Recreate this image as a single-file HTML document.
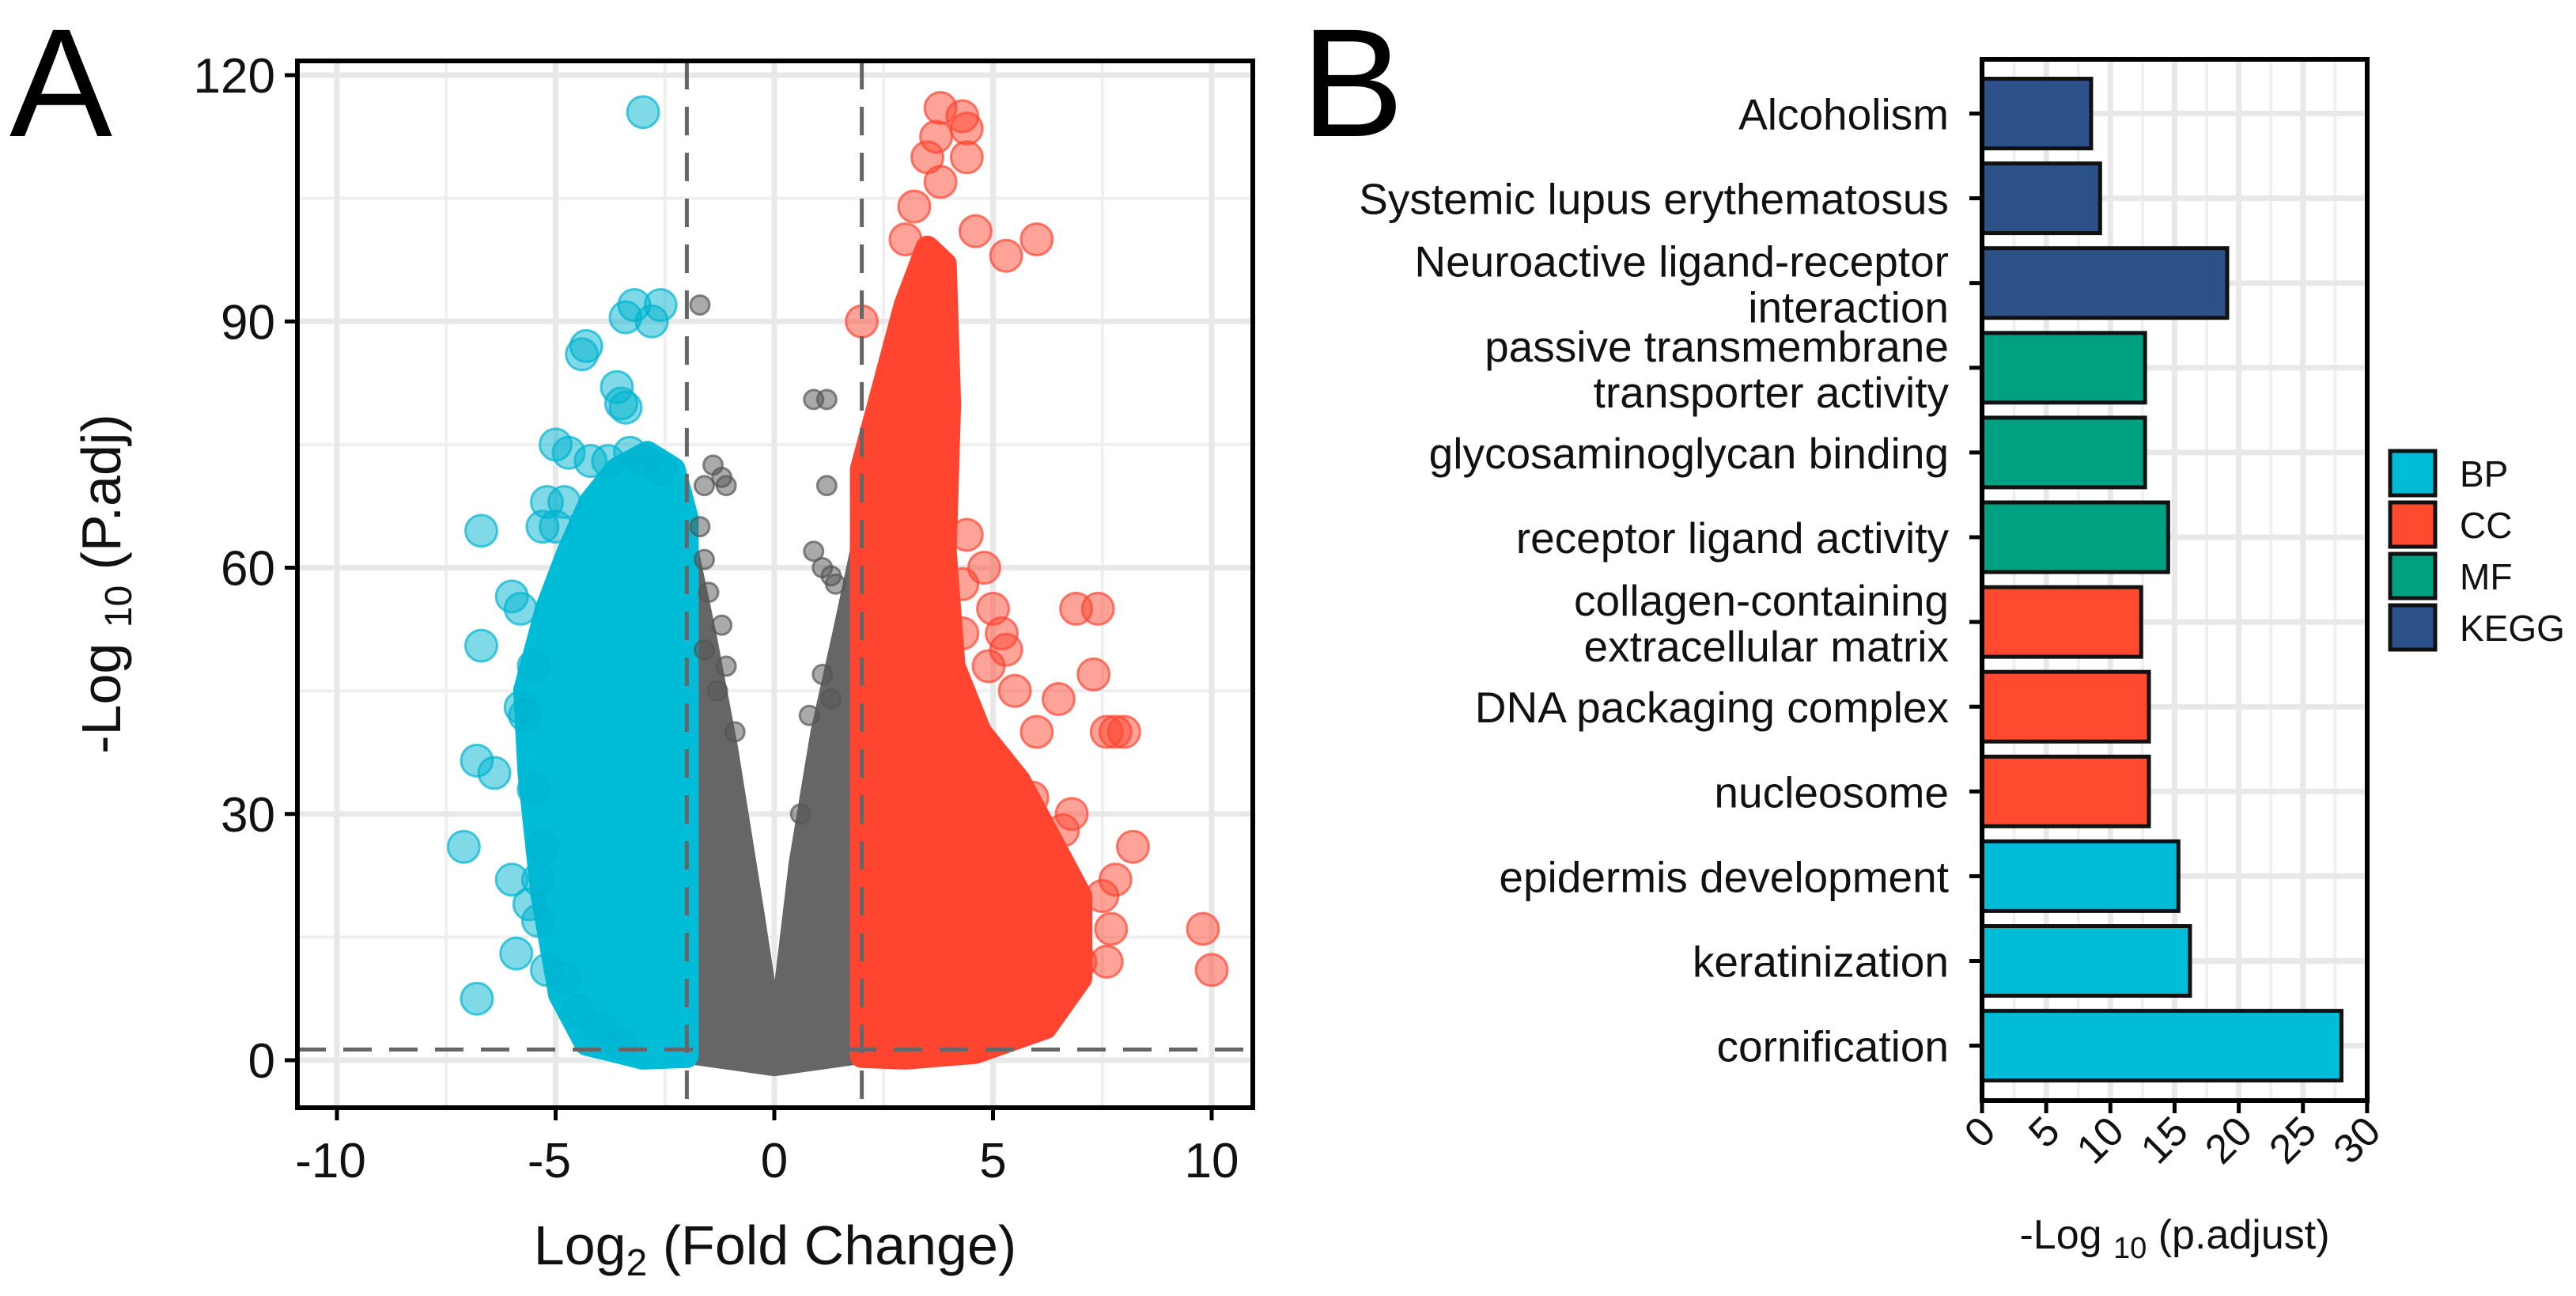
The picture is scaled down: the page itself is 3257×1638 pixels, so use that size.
<!DOCTYPE html>
<html><head><meta charset="utf-8">
<style>
html,body{margin:0;padding:0;background:#fff;}
svg{display:block;font-family:"Liberation Sans",Arial,sans-serif;}
</style></head>
<body>
<svg id="fig" width="3257" height="1638" viewBox="0 0 3257 1638" xmlns="http://www.w3.org/2000/svg">
<text x="12" y="172" font-size="195">A</text>
<text x="1645" y="172" font-size="195">B</text>
<g id="volcano"></g>
<g id="bars"></g>
</svg>
<script>
// ---------- Volcano data ----------
const xTicksA = [-10, -5, 0, 5, 10];
const yTicksA = [0, 30, 60, 90, 120];
const blueCloud = [[-2,0.5],[-3,0.3],[-4.3,2],[-4.9,8],[-5.3,20],[-5.6,35],[-5.7,45],[-5.2,55],[-4.7,62],[-4.2,68],[-3.6,72],[-2.9,74],[-2.3,72],[-2.0,66]];
const grayCloud = [[-2,1],[-2,62],[-1.6,52],[-1.1,38],[-0.5,18],[-0.1,4],[0.2,6],[0.6,24],[1.1,40],[1.6,52],[2,62],[2,1],[0,-0.5]];
const redCloud = [[2,0.5],[2,72],[2.5,82],[3.0,92],[3.5,99],[3.9,97],[4.0,80],[3.9,62],[4.1,48],[4.7,40],[5.6,34],[6.4,26],[7,20],[7,10],[6.2,4],[4.6,1],[3,0.3]];
const bluePts = [[-3,115.5],[-3.2,92],[-3.4,90.5],[-2.6,92],[-2.8,90],[-4.3,87],[-4.4,86],[-3.6,82],[-3.5,80],[-3.4,79.5],[-5,75],[-4.7,74],[-4.2,73],[-3.8,73],[-3.3,74],[-3,73],[-2.6,72],[-6.7,64.5],[-5.3,65],[-5,65],[-5.2,68],[-4.8,68],[-6,56.5],[-5.8,55],[-6.7,50.5],[-5.8,43],[-6.8,36.5],[-6.4,35],[-5.5,33],[-7.1,26],[-5.3,26],[-6,22],[-5.4,22],[-5.6,19],[-5.4,17],[-5.9,13],[-5.2,11],[-6.8,7.5],[-3.5,2],[-4.5,6],[-4.8,10],[-4,4],[-5.7,42],[-5.5,48]];
const redPts = [[3.8,116],[4.3,115],[4.4,113.5],[3.7,112.5],[3.5,110],[4.4,110],[3.8,107],[6,100],[5.3,98],[4.6,101],[3.2,104],[2,90],[3,100],[4.4,64],[4.8,60],[4.3,58],[5,55],[5.2,52],[4.3,52],[6.9,55],[7.4,55],[7.3,47],[5.3,50],[7.8,40],[7.6,40],[8,40],[6.5,44],[6,40],[5.5,45],[8.2,26],[7.8,22],[7.5,20],[7.7,16],[7.6,12],[7,12],[9.8,16],[10,11],[6.8,30],[6.6,28],[5.9,32],[4.5,5],[5.5,4],[3.3,88],[2.6,80],[2.4,70],[4.9,48]];
const grayPts = [[-1.7,92],[-1.4,72.5],[-1.2,71],[-1.1,70],[-1.6,70],[-1.7,65],[-1.6,61],[0.9,80.5],[1.2,80.5],[1.2,70],[0.9,62],[1.1,60],[1.3,59],[1.4,58],[-1.5,57],[-1.2,53],[-1.1,48],[-1.3,45],[-0.9,40],[1.1,47],[0.8,42],[1.3,44],[0.6,30],[-1.6,50]];
const fcCut = [-2, 2];
const pCut = 1.3;

// ---------- Bar data ----------
const terms = ["Alcoholism","Systemic lupus erythematosus","Neuroactive ligand-receptor|interaction","passive transmembrane|transporter activity","glycosaminoglycan binding","receptor ligand activity","collagen-containing|extracellular matrix","DNA packaging complex","nucleosome","epidermis development","keratinization","cornification"];
const values = [8.5, 9.2, 19.1, 12.7, 12.7, 14.5, 12.4, 13.0, 13.0, 15.3, 16.2, 28.0];
const groups = ["KEGG","KEGG","KEGG","MF","MF","MF","CC","CC","CC","BP","BP","BP"];
const xTicksB = [0, 5, 10, 15, 20, 25, 30];
const legendKeys = ["BP","CC","MF","KEGG"];
const groupColors = {BP:"#00BCD6", CC:"#FF4A2F", MF:"#00A083", KEGG:"#2C5189"};

const NS = "http://www.w3.org/2000/svg";
function mk(tag, attrs, parent){const e=document.createElementNS(NS,tag);for(const k in attrs)e.setAttribute(k,attrs[k]);parent.appendChild(e);return e;}

// ---------- Volcano ----------
(function(){
  const g = document.getElementById('volcano');
  const L=376,R=1584,T=77,B=1400;
  const sx = v => 979 + v*55.3;
  const sy = v => 1340 - v*10.375;
  let e;
  e=mk('rect',{x:L,y:T,width:R-L,height:B-T,fill:'#fff'},g);
  
  
  [-7.5,-2.5,2.5,7.5].forEach(v=>{e=mk('line',{x1:sx(v),x2:sx(v),y1:T,y2:B,stroke:'#efefef','stroke-width':4},g);
    });
  [15,45,75,105].forEach(v=>{e=mk('line',{x1:L,x2:R,y1:sy(v),y2:sy(v),stroke:'#efefef','stroke-width':4},g);
    });
  xTicksA.forEach(v=>{e=mk('line',{x1:sx(v),x2:sx(v),y1:T,y2:B,stroke:'#e8e8e8','stroke-width':7},g);
    });
  yTicksA.forEach(v=>{e=mk('line',{x1:L,x2:R,y1:sy(v),y2:sy(v),stroke:'#e8e8e8','stroke-width':7},g);
    });
  const poly=(arr,col,name)=>{e=mk('polygon',{points:arr.map(p=>sx(p[0])+','+sy(p[1])).join(' '),fill:col,stroke:col,'stroke-width':30,'stroke-linejoin':'round'},g);
    };
  poly(grayCloud,'#666666','gray-point-cloud');
  poly(blueCloud,'#00BCD6','blue-point-cloud');
  poly(redCloud,'#FF4530','red-point-cloud');
  const pts=(arr,col,r,name)=>arr.forEach(p=>{e=mk('circle',{cx:sx(p[0]),cy:sy(p[1]),r:r,fill:col,'fill-opacity':0.5,stroke:col,'stroke-opacity':0.7,'stroke-width':3},g);
    });
  pts(grayPts,'#555555',12,'gray-point');
  pts(bluePts,'#00B4D0',20,'down-point');
  pts(redPts,'#FF4530',20,'up-point');
  fcCut.forEach(v=>{e=mk('line',{x1:sx(v),x2:sx(v),y1:T,y2:B,stroke:'#666','stroke-width':5,'stroke-dasharray':'36 22'},g);
    });
  e=mk('line',{x1:L,x2:R,y1:sy(pCut),y2:sy(pCut),stroke:'#666','stroke-width':5,'stroke-dasharray':'36 22'},g);
  
  e=mk('rect',{x:L,y:T,width:R-L,height:B-T,fill:'none',stroke:'#000','stroke-width':6},g);
  
  xTicksA.forEach(v=>{
    e=mk('line',{x1:sx(v),x2:sx(v),y1:B,y2:B+16,stroke:'#000','stroke-width':5},g);
    
    e=mk('text',{x:sx(v)-(v<0?8:0),y:B+88,'font-size':62,'text-anchor':'middle',fill:'#111'},g);
    e.textContent=v;
  });
  yTicksA.forEach(v=>{
    e=mk('line',{x1:L-16,x2:L,y1:sy(v),y2:sy(v),stroke:'#000','stroke-width':5},g);
    
    e=mk('text',{x:L-28,y:sy(v)+22,'font-size':62,'text-anchor':'end',fill:'#111'},g);
    e.textContent=v;
  });
  e=mk('text',{x:(L+R)/2,y:1598,'font-size':70,'text-anchor':'middle',fill:'#111'},g);
  e.innerHTML='Log<tspan font-size="48" dy="14">2</tspan><tspan dy="-14"> (Fold Change)</tspan>';
  
  e=mk('text',{x:0,y:0,'font-size':70,'text-anchor':'middle',fill:'#111',transform:'translate(152,738) rotate(-90)'},g);
  e.innerHTML='-Log <tspan font-size="48" dy="14">10</tspan><tspan dy="-14"> (P.adj)</tspan>';
  
})();

// ---------- Bars ----------
(function(){
  const g=document.getElementById('bars');
  const L=2506,R=2993,T=75,B=1391;
  const sx=v=>L+v*16.23;
  const band=107.1, c0=143.5, bh=88;
  const cy=i=>c0+i*band;
  let e;
  e=mk('rect',{x:L,y:T,width:R-L,height:B-T,fill:'#fff'},g);
  
  [2.5,7.5,12.5,17.5,22.5,27.5].forEach(v=>{e=mk('line',{x1:sx(v),x2:sx(v),y1:T,y2:B,stroke:'#f0f0f0','stroke-width':4},g);
    });
  xTicksB.forEach(v=>{e=mk('line',{x1:sx(v),x2:sx(v),y1:T,y2:B,stroke:'#e8e8e8','stroke-width':7},g);
    });
  terms.forEach((t,i)=>{e=mk('line',{x1:L,x2:R,y1:cy(i),y2:cy(i),stroke:'#e8e8e8','stroke-width':7},g);
    });
  terms.forEach((t,i)=>{
    e=mk('rect',{x:L,y:cy(i)-bh/2,width:sx(values[i])-L,height:bh,fill:groupColors[groups[i]],stroke:'#111','stroke-width':5},g);
    
    e=mk('line',{x1:L-16,x2:L,y1:cy(i),y2:cy(i),stroke:'#000','stroke-width':5},g);
    
    const lines=t.split('|');
    lines.forEach((ln,k)=>{
      const off = lines.length===1 ? 20 : (k===0 ? -8 : 50);
      e=mk('text',{x:L-42,y:cy(i)+off,'font-size':55,'text-anchor':'end',fill:'#111'},g);
      e.textContent=ln;
    });
  });
  e=mk('rect',{x:L,y:T,width:R-L,height:B-T,fill:'none',stroke:'#000','stroke-width':6},g);
  
  xTicksB.forEach(v=>{
    e=mk('line',{x1:sx(v),x2:sx(v),y1:B,y2:B+16,stroke:'#000','stroke-width':5},g);
    
    e=mk('text',{x:0,y:0,'font-size':52,'text-anchor':'end',fill:'#111',transform:'translate('+(sx(v)+20)+','+(B+42)+') rotate(-45)'},g);
    e.textContent=v;
  });
  e=mk('text',{x:(L+R)/2,y:1578,'font-size':52,'text-anchor':'middle',fill:'#111'},g);
  e.innerHTML='-Log <tspan font-size="38" dy="12">10</tspan><tspan dy="-12"> (p.adjust)</tspan>';
  
  legendKeys.forEach((k,i)=>{
    const y=570+i*65;
    e=mk('rect',{x:3022,y:y,width:57,height:56,fill:groupColors[k],stroke:'#111','stroke-width':5},g);
    
    e=mk('text',{x:3110,y:y+45,'font-size':46,fill:'#111'},g);
    e.textContent=k;
  });
})();
</script>
</body></html>
